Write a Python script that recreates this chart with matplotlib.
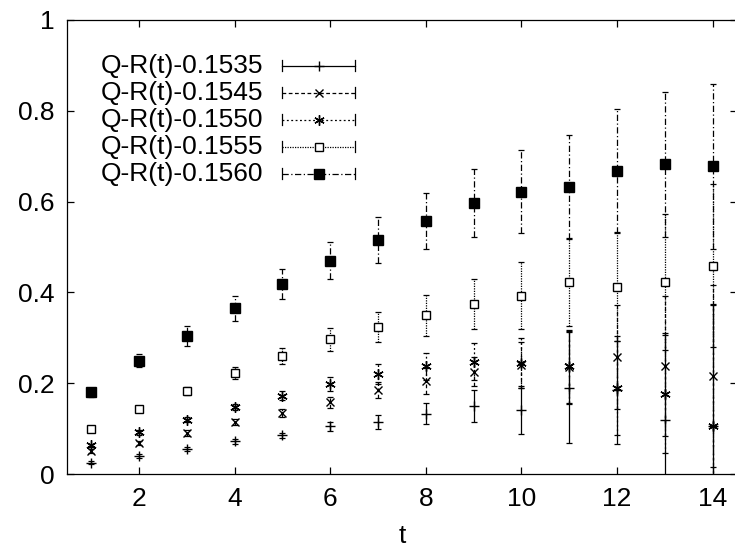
import numpy as np
import matplotlib
matplotlib.use("Agg")
import matplotlib.pyplot as plt

plt.rcParams["font.family"] = ["Liberation Sans", "DejaVu Sans"]
plt.rcParams["font.size"] = 19

# >>>>>>>>>>>>>> data
t = np.arange(1, 15)

q1535 = [0.025, 0.040, 0.055, 0.072, 0.085, 0.105, 0.114, 0.133, 0.150, 0.141, 0.190, 0.185, 0.120, 0.105]
e1535 = [0.004, 0.004, 0.004, 0.005, 0.006, 0.010, 0.015, 0.023, 0.035, 0.052, 0.122, 0.119, 0.190, 0.270]

q1545 = [0.050, 0.068, 0.090, 0.115, 0.135, 0.158, 0.185, 0.205, 0.225, 0.240, 0.235, 0.258, 0.238, 0.216]
e1545 = [0.004, 0.005, 0.006, 0.007, 0.009, 0.012, 0.018, 0.028, 0.032, 0.050, 0.080, 0.115, 0.155, 0.200]

q1550 = [0.063, 0.092, 0.120, 0.148, 0.172, 0.198, 0.220, 0.237, 0.247, 0.244, 0.237, 0.190, 0.176, 0.106]
e1550 = [0.004, 0.005, 0.006, 0.007, 0.010, 0.015, 0.022, 0.030, 0.041, 0.055, 0.080, 0.103, 0.130, 0.266]

q1555 = [0.100, 0.143, 0.183, 0.223, 0.260, 0.297, 0.323, 0.350, 0.375, 0.393, 0.423, 0.413, 0.423, 0.459]
e1555 = [0.005, 0.006, 0.009, 0.013, 0.018, 0.025, 0.033, 0.045, 0.055, 0.073, 0.097, 0.120, 0.150, 0.180]

q1560 = [0.180, 0.250, 0.305, 0.365, 0.418, 0.470, 0.515, 0.558, 0.597, 0.622, 0.632, 0.667, 0.682, 0.678]
e1560 = [0.010, 0.015, 0.022, 0.027, 0.033, 0.041, 0.050, 0.062, 0.075, 0.092, 0.114, 0.137, 0.160, 0.182]

labels = ["Q-R(t)-0.1535", "Q-R(t)-0.1545", "Q-R(t)-0.1550", "Q-R(t)-0.1555", "Q-R(t)-0.1560"]
values = [q1535, q1545, q1550, q1555, q1560]
errors = [e1535, e1545, e1550, e1555, e1560]

# styles (gnuplot-like)
styles = [
    dict(ls="-", marker="+", ms=7, mfc="black"),
    dict(ls=(0, (3, 2)), marker="x", ms=6, mfc="black"),
    dict(ls=(0, (1.5, 2)), marker=(6, 2, 0), ms=7.5, mfc="black"),
    dict(ls=(0, (1, 1)), marker="s", ms=5.5, mfc="white"),
    dict(ls=(0, (5, 2, 1, 2)), marker="s", ms=6.5, mfc="black"),
]

# >>>>>>>>>>>>>> plotting
fig = plt.figure(figsize=(7.35, 5.57), dpi=100)
ax = fig.add_axes([0.0916, 0.149, 0.9105, 0.8151])

for y, e, st in zip(values, errors, styles):
    line, caps, bars = ax.errorbar(t, y, yerr=e, fmt="none", ecolor="black",
                                   elinewidth=0.9, capsize=2.5, capthick=0.9)
    for b in bars:
        b.set_linestyle(st["ls"])
    ax.plot(t, y, ls="none", marker=st["marker"], ms=st["ms"], mec="black",
            mfc=st["mfc"], mew=1.0, color="black")

# legend drawn gnuplot-style (text right-aligned, sample with end caps)
x_text, x0, x1 = 0.2924, 0.321, 0.430
y_top, dy, cap_h = 0.899, 0.0595, 0.012
for i, (lab, st) in enumerate(zip(labels, styles)):
    yy = y_top - i * dy
    ax.text(x_text, yy, lab, transform=ax.transAxes, ha="right", va="center", fontsize=19)
    ax.plot([x0, x1], [yy, yy], transform=ax.transAxes, color="black", lw=0.9, ls=st["ls"])
    for xe in (x0, x1):
        ax.plot([xe, xe], [yy - cap_h, yy + cap_h], transform=ax.transAxes, color="black", lw=0.9)
    ax.plot([(x0 + x1) / 2], [yy], transform=ax.transAxes, ls="none", marker=st["marker"],
            ms=st["ms"], mec="black", mfc=st["mfc"], mew=1.0)

ax.set_xlim(0.5, 14.5)
ax.set_ylim(0, 1)
ax.set_xticks([2, 4, 6, 8, 10, 12, 14])
ax.set_yticks([0, 0.2, 0.4, 0.6, 0.8, 1.0])
ax.set_yticklabels(["0", "0.2", "0.4", "0.6", "0.8", "1"])
ax.tick_params(direction="in", length=5, width=0.9, top=True, right=True, labelsize=19)
ax.tick_params(axis="x", pad=9)
ax.tick_params(axis="y", pad=9)
for s in ax.spines.values():
    s.set_linewidth(0.9)
ax.set_xlabel("t", fontsize=19, labelpad=10)

fig.savefig("out.png", dpi=100)
